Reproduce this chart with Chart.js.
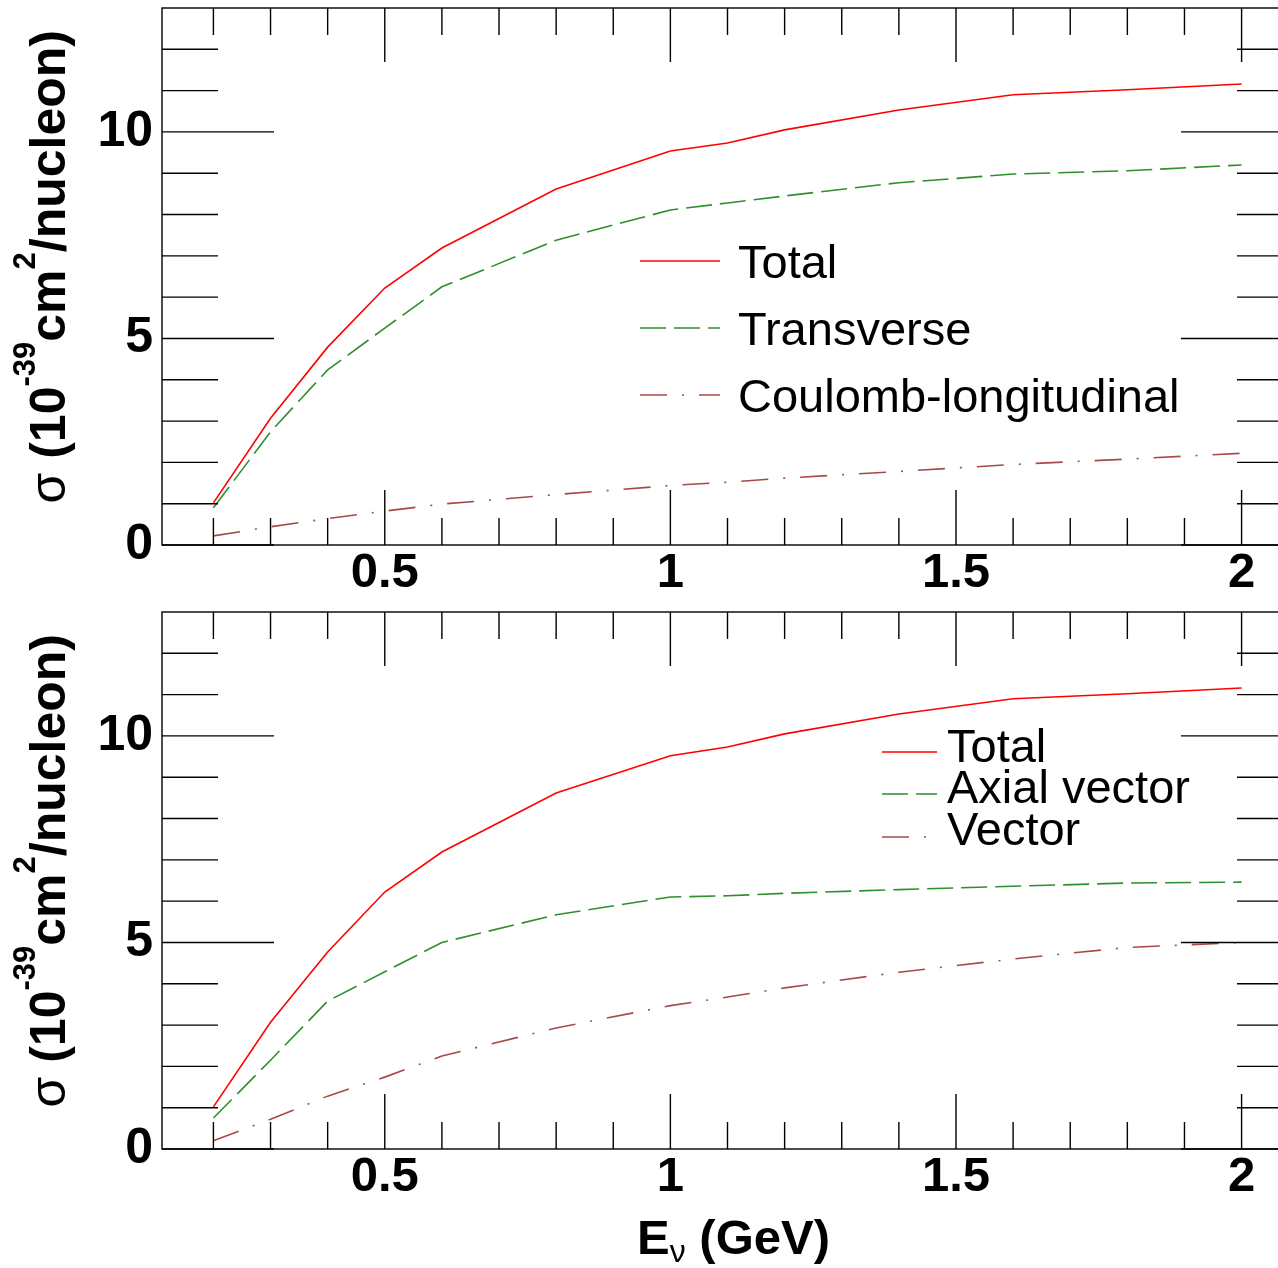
<!DOCTYPE html>
<html><head><meta charset="utf-8">
<script src="https://cdn.jsdelivr.net/npm/chart.js@4.4.1/dist/chart.umd.min.js"></script>
<style>
html,body{margin:0;padding:0;background:#fff;overflow:hidden;}
#wrap{position:relative;width:1278px;height:1268px;overflow:hidden;background:#fff;}
#c1{position:absolute;left:0;top:0;}
#c2{position:absolute;left:0;top:604px;}
</style></head><body>
<div id="wrap">
<canvas id="c1" width="1320" height="604" style="width:1320px;height:604px"></canvas>
<canvas id="c2" width="1320" height="664" style="width:1320px;height:664px"></canvas>
</div>
<script>
// ---------------- data ----------------
const energy      = [0.2, 0.3, 0.4, 0.5, 0.6, 0.8, 1.0, 1.1, 1.2, 1.4, 1.6, 1.8, 2.0];
const totalTop    = [1.02, 3.07, 4.79, 6.22, 7.19, 8.62, 9.54, 9.73, 10.05, 10.53, 10.90, 11.02, 11.16];
const transverse  = [0.90, 2.74, 4.24, 5.25, 6.25, 7.38, 8.11, 8.28, 8.45, 8.77, 8.98, 9.06, 9.20];
const coulombLong = [0.22, 0.44, 0.64, 0.82, 0.99, 1.22, 1.44, 1.52, 1.62, 1.78, 1.95, 2.08, 2.22];
const totalBottom = [1.02, 3.07, 4.77, 6.22, 7.19, 8.62, 9.52, 9.73, 10.05, 10.53, 10.90, 11.02, 11.16];
const axialVector = [0.75, 2.15, 3.58, 4.29, 5.00, 5.67, 6.10, 6.13, 6.19, 6.28, 6.36, 6.44, 6.46];
const vectorPart  = [0.20, 0.72, 1.28, 1.74, 2.25, 2.93, 3.47, 3.68, 3.90, 4.28, 4.60, 4.88, 5.00];

const labelsTop    = ['Total', 'Transverse', 'Coulomb-longitudinal'];
const labelsBottom = ['Total', 'Axial vector', 'Vector'];

const xMajorTicks = [0.5, 1, 1.5, 2];
const xMinorTicks = [0.2, 0.3, 0.4, 0.6, 0.7, 0.8, 0.9, 1.1, 1.2, 1.3, 1.4, 1.6, 1.7, 1.8, 1.9];
const yMajorTicks = [0, 5, 10];
const yMinorTicks = [1, 2, 3, 4, 6, 7, 8, 9, 11, 12];
const xRange = [0.11, 2.09];
const yRange = [0, 13];

// ---------------- styles ----------------
const FONT = '"Liberation Sans", Arial, Helvetica, sans-serif';
const RED = '#ff0000', GREEN = '#2f8f2f', BROWN = '#a84848';
const DASH = [26, 8], DASHDOT = [27, 15, 2, 15];

function pts(ys){ return energy.map((e,i)=>({x:e, y:ys[i]})); }
function ds(label, ys, color, dash){
  return {label, data: pts(ys), borderColor: color, backgroundColor: color, borderWidth: 1.6,
          borderDash: dash, pointRadius: 0, tension: 0, fill: false};
}

function drawSegments(ctx, segs, x, y){
  for (const s of segs){
    ctx.font = s.font;
    ctx.fillText(s.t, x, y - (s.dy||0));
    x += ctx.measureText(s.t).width;
  }
  return x;
}
function segWidth(ctx, segs){
  let w = 0; for (const s of segs){ ctx.font = s.font; w += ctx.measureText(s.t).width; } return w;
}

const rootFrame = {
  id: 'rootFrame',
  afterDraw(chart, args, o){
    const ctx = chart.ctx, a = chart.chartArea, xs = chart.scales.x, ys = chart.scales.y;
    ctx.save();
    ctx.strokeStyle = '#000'; ctx.lineWidth = 1.4;
    ctx.strokeRect(a.left, a.top, a.right - a.left, a.bottom - a.top);
    ctx.beginPath();
    const L = (x1,y1,x2,y2)=>{ ctx.moveTo(x1,y1); ctx.lineTo(x2,y2); };
    for (const v of xMajorTicks){ const p = xs.getPixelForValue(v); L(p,a.bottom,p,a.bottom-55); L(p,a.top,p,a.top+54); }
    for (const v of xMinorTicks){ const p = xs.getPixelForValue(v); L(p,a.bottom,p,a.bottom-27); L(p,a.top,p,a.top+27); }
    for (const v of yMajorTicks){ const p = ys.getPixelForValue(v); L(a.left,p,a.left+112,p); L(a.right,p,a.right-112,p); }
    for (const v of yMinorTicks){ const p = ys.getPixelForValue(v); L(a.left,p,a.left+56,p); L(a.right,p,a.right-56,p); }
    ctx.stroke();

    // legend
    const lg = o.legend;
    chart.data.datasets.forEach((d,i)=>{
      const yl = lg.lineY[i];
      ctx.beginPath();
      ctx.strokeStyle = d.borderColor; ctx.lineWidth = 1.6;
      ctx.setLineDash(d.borderDash || []);
      ctx.moveTo(lg.x0, yl); ctx.lineTo(lg.x1, yl); ctx.stroke();
      ctx.setLineDash([]);
      ctx.fillStyle = '#000'; ctx.font = '47px ' + FONT; ctx.textAlign = 'left'; ctx.textBaseline = 'alphabetic';
      ctx.fillText(d.label, lg.tx, lg.textY[i]);
    });

    // y title
    ctx.fillStyle = '#000'; ctx.textAlign = 'left'; ctx.textBaseline = 'alphabetic';
    const big = 'bold 50px ' + FONT, sm = 'bold 31px ' + FONT;
    const ySegs = [
      {t:'\u03C3', font:'50px ' + FONT},
      {t:' (10', font: big},
      {t:'-39', font: sm, dy: 30},
      {t:'cm', font: big},
      {t:'2', font: sm, dy: 30},
      {t:'/nucleon)', font: big}
    ];
    const w = segWidth(ctx, ySegs);
    ctx.save();
    ctx.translate(65, 30 + w);
    ctx.rotate(-Math.PI/2);
    drawSegments(ctx, ySegs, 0, 0);
    ctx.restore();

    if (o.xTitle){
      const xSegs = [
        {t:'E', font:'bold 49px ' + FONT},
        {t:'\u03BD', font:'32px ' + FONT, dy: -8},
        {t:' (GeV)', font:'bold 49px ' + FONT}
      ];
      const wx = segWidth(ctx, xSegs);
      drawSegments(ctx, xSegs, 830 - wx, o.xTitleY);
    }
    ctx.restore();
  }
};

function makeChart(id, datasets, legend, xTitle, canvasH){
  return new Chart(document.getElementById(id), {
    type: 'line',
    data: { datasets },
    options: {
      responsive: false, animation: false, devicePixelRatio: 1,
      layout: { padding: { left: 0, top: 8, right: 27, bottom: 0 } },
      plugins: { legend: { display: false }, tooltip: { enabled: false },
                 rootFrame: { legend, xTitle, xTitleY: 650 } },
      scales: {
        x: { type: 'linear', min: xRange[0], max: xRange[1],
             grid: { display: false, drawTicks: false }, border: { display: false },
             afterBuildTicks: s => { s.ticks = xMajorTicks.map(v => ({value: v})); },
             afterFit: s => { s.height = canvasH - 545; s.paddingLeft = 0; s.paddingRight = 0; s.paddingTop = 0; s.paddingBottom = 0; },
             ticks: { autoSkip: false, maxRotation: 0, padding: -1, color: '#000',
                      font: { family: FONT, size: 49, weight: 'bold' },
                      callback: v => String(v) } },
        y: { type: 'linear', min: yRange[0], max: yRange[1],
             grid: { display: false, drawTicks: false }, border: { display: false },
             afterBuildTicks: s => { s.ticks = yMajorTicks.map(v => ({value: v})); },
             afterFit: s => { s.width = 162; s.paddingTop = 0; s.paddingBottom = 0; s.paddingLeft = 0; s.paddingRight = 0; },
             ticks: { autoSkip: false, padding: 9, color: '#000',
                      font: { family: FONT, size: 50, weight: 'bold' },
                      callback: v => String(v) } }
      }
    },
    plugins: [rootFrame]
  });
}

makeChart('c1', [
  ds(labelsTop[0], totalTop, RED, []),
  ds(labelsTop[1], transverse, GREEN, DASH),
  ds(labelsTop[2], coulombLong, BROWN, DASHDOT)
], { x0: 640, x1: 720, tx: 738, lineY: [261, 328, 395], textY: [278, 345, 412] }, false, 604);

makeChart('c2', [
  ds(labelsBottom[0], totalBottom, RED, []),
  ds(labelsBottom[1], axialVector, GREEN, DASH),
  ds(labelsBottom[2], vectorPart, BROWN, DASHDOT)
], { x0: 882, x1: 937, tx: 947, lineY: [148, 190, 233], textY: [158, 199, 241] }, true, 664);
</script>
</body></html>
